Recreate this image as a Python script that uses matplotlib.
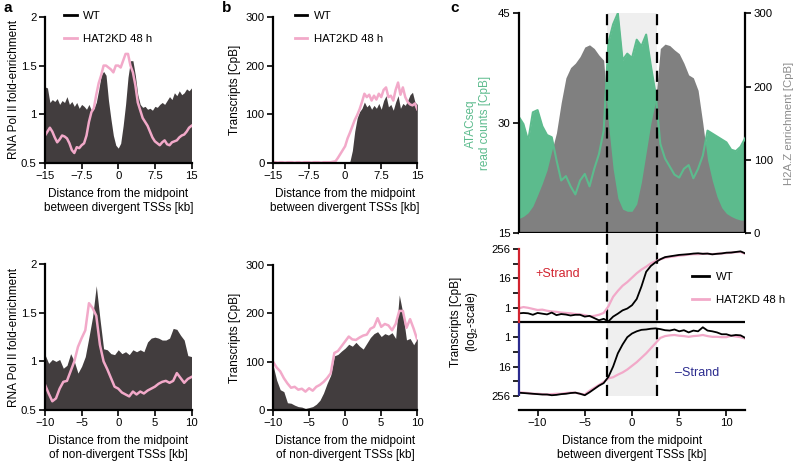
import numpy as np
import matplotlib.pyplot as plt
from matplotlib.lines import Line2D

plt.rcParams['font.family'] = ['Liberation Sans', 'DejaVu Sans']
plt.rcParams['font.size'] = 8.5
plt.rcParams['mathtext.default'] = 'regular'

# distance from midpoint [kb]
x_div = np.arange(-15, 15.01, 0.5)
x_nondiv = np.arange(-10, 10.01, 0.5)
x_c = np.arange(-12, 12.01, 0.5)
div_ticks = [-15, -7.5, 0, 7.5, 15]
div_labels = ['\u221215', '\u22127.5', '0', '7.5', '15']

# a: RNA Pol II fold-enrichment
polii_div_wt = [1.28, 1.27, 1.12, 1.15, 1.13, 1.16, 1.10, 1.14, 1.12, 1.18,
                1.10, 1.13, 1.08, 1.12, 1.06, 1.10, 1.08, 1.05, 1.10, 1.04,
                1.06, 1.12, 1.25, 1.40, 1.44, 1.40, 1.14, 0.95, 0.78, 0.68,
                0.65, 0.70, 0.88, 1.10, 1.38, 1.55, 1.55, 1.40, 1.20, 1.10,
                1.07, 1.08, 1.05, 1.06, 1.04, 1.08, 1.07, 1.10, 1.12, 1.10,
                1.14, 1.18, 1.15, 1.22, 1.19, 1.24, 1.20, 1.22, 1.26, 1.24,
                1.27]
polii_div_kd = [0.78, 0.82, 0.86, 0.82, 0.76, 0.71, 0.74, 0.78, 0.77, 0.75,
                0.70, 0.63, 0.60, 0.66, 0.65, 0.68, 0.70, 0.78, 0.92, 1.02,
                1.06, 1.20, 1.32, 1.40, 1.50, 1.50, 1.48, 1.46, 1.43, 1.50,
                1.50, 1.48, 1.55, 1.62, 1.62, 1.50, 1.43, 1.30, 1.12, 1.04,
                0.96, 0.92, 0.88, 0.82, 0.76, 0.72, 0.70, 0.68, 0.71, 0.73,
                0.69, 0.68, 0.71, 0.72, 0.73, 0.76, 0.78, 0.79, 0.82, 0.86,
                0.88]
polii_nondiv_wt = [1.07, 0.98, 1.02, 1.00, 1.02, 0.93, 0.96, 1.08, 1.00, 0.88,
                   0.95, 1.05, 1.25, 1.46, 1.78, 1.44, 1.13, 1.12, 1.08, 1.07,
                   1.12, 1.08, 1.10, 1.07, 1.12, 1.10, 1.12, 1.10, 1.20, 1.24,
                   1.25, 1.24, 1.22, 1.22, 1.24, 1.34, 1.33, 1.27, 1.22, 1.06,
                   1.05]
polii_nondiv_kd = [0.76, 0.67, 0.59, 0.62, 0.72, 0.79, 0.80, 0.90, 1.00, 1.15,
                   1.24, 1.32, 1.60, 1.55, 1.47, 1.17, 1.00, 0.92, 0.83, 0.74,
                   0.72, 0.68, 0.66, 0.64, 0.69, 0.66, 0.69, 0.67, 0.70, 0.72,
                   0.74, 0.77, 0.79, 0.80, 0.78, 0.80, 0.88, 0.83, 0.78, 0.82,
                   0.84]

# b: transcripts [CpB]
rna_div_wt = [0, 0, 0, 0, 0, 0, 0, 0, 0, 0,
              0, 0, 0, 0, 0, 0, 0, 0, 0, 0,
              0, 0, 0, 0, 0, 0, 0, 0, 0, 0,
              0, 0, 3, 25, 65, 92, 105, 112, 125, 115,
              120, 110, 118, 112, 122, 110, 128, 138, 115, 120,
              108, 125, 138, 112, 122, 118, 128, 140, 145, 125,
              120]
rna_div_kd = [1, 1, 0, 1, 1, 0, 1, 1, 1, 0,
              1, 1, 0, 1, 1, 1, 0, 1, 1, 1,
              0, 1, 1, 1, 1, 2, 3, 10, 18, 26,
              34, 50, 62, 75, 88, 98, 110, 125, 142, 135,
              140, 128, 138, 130, 142, 135, 150, 155, 135, 138,
              128, 150, 165, 140, 155, 135, 125, 120, 118, 122,
              110]
rna_nondiv_wt = [93, 62, 42, 38, 15, 14, 10, 7, 6, 3,
                 5, 7, 12, 20, 35, 55, 72, 112, 115, 122,
                 128, 136, 132, 140, 132, 126, 138, 150, 158, 162,
                 152, 158, 155, 160, 148, 238, 200, 145, 148, 135,
                 148]
rna_nondiv_kd = [100, 88, 80, 66, 55, 46, 48, 42, 44, 38,
                 45, 40, 48, 52, 58, 66, 76, 118, 122, 132,
                 142, 152, 146, 145, 150, 154, 156, 168, 172, 190,
                 172, 178, 175, 165, 178, 205, 205, 170, 188, 168,
                 145]

# c: ATACseq / H2A.Z around divergent TSSs
atac = [30.9, 29.9, 27.6, 31.5, 31.8, 29.6, 28.4, 28.1, 25.0, 22.2,
        22.8, 21.4, 20.3, 22.2, 23.1, 21.4, 23.8, 25.8, 29.0, 41.0,
        43.5, 45.0, 38.6, 39.5, 38.9, 41.4, 40.5, 42.1, 37.8, 34.0,
        27.2, 25.2, 24.1, 23.0, 22.6, 23.8, 24.3, 22.5, 23.8, 25.6,
        29.0, 28.6, 28.2, 27.8, 27.4, 26.4, 26.2, 26.8, 28.0]
h2az = [20, 23, 28, 37, 52, 68, 86, 112, 137, 178,
        212, 226, 232, 241, 254, 257, 252, 243, 236, 150,
        88, 48, 33, 30, 30, 40, 70, 110, 150, 180,
        252, 258, 256, 250, 245, 232, 216, 212, 195, 150,
        100, 72, 50, 35, 27, 23, 20, 18, 18]

# c: strand-specific transcripts, log2(CpB) + 2 (0 = centre line)
plus_wt = [1.24, 1.30, 1.25, 1.05, 1.30, 1.20, 1.10, 1.35, 1.00, 1.15,
           1.08, 0.95, 1.05, 1.05, 0.80, 0.90, 0.60, 0.30, 0.50, 0.15,
           0.80, 1.20, 1.65, 1.90, 2.35, 3.20, 4.90, 6.90, 7.70, 8.20,
           8.60, 8.90, 9.00, 9.10, 9.20, 9.25, 9.30, 9.38, 9.42, 9.35,
           9.38, 9.28, 9.35, 9.40, 9.50, 9.52, 9.60, 9.68, 9.40]
plus_kd = [1.93, 2.10, 2.00, 1.85, 1.70, 1.75, 1.60, 1.50, 1.45, 1.35,
           1.30, 1.25, 1.15, 1.10, 1.00, 0.85, 0.90, 1.05, 1.30, 2.20,
           3.50, 4.30, 5.00, 5.50, 6.10, 6.70, 7.20, 7.60, 8.05, 8.35,
           8.60, 8.80, 8.92, 9.00, 9.10, 9.15, 9.25, 9.30, 9.30, 9.35,
           9.35, 9.30, 9.35, 9.40, 9.45, 9.50, 9.58, 9.60, 9.35]
minus_wt = [9.56, 9.60, 9.65, 9.70, 9.75, 9.80, 9.80, 9.90, 9.85, 9.75,
            9.70, 9.60, 9.55, 9.70, 9.90, 9.50, 9.05, 8.60, 8.25, 7.40,
            6.00, 4.20, 3.00, 2.00, 1.50, 1.20, 1.00, 0.95, 0.85, 0.80,
            0.90, 1.05, 1.10, 0.95, 1.20, 1.05, 1.35, 1.10, 1.20, 0.65,
            1.10, 1.20, 1.35, 1.60, 1.60, 1.80, 1.70, 1.75, 2.10]
minus_kd = [9.50, 9.55, 9.60, 9.70, 9.70, 9.75, 9.80, 9.75, 9.70, 9.70,
            9.60, 9.55, 9.55, 9.70, 9.80, 9.30, 8.90, 8.50, 8.10, 7.60,
            7.45, 7.10, 6.80, 6.40, 5.90, 5.40, 4.80, 4.20, 3.50, 2.80,
            2.10, 1.85, 1.75, 1.70, 1.80, 1.85, 1.95, 1.85, 1.80, 1.70,
            1.85, 1.95, 1.95, 2.00, 2.00, 1.80, 1.90, 2.00, 2.20]
log_ticks = [-10, -8, -6, -4, -2, 0, 2, 4, 6, 8, 10]
log_labels = ['256', '', '16', '', '1', '', '1', '', '16', '', '256']
tss_gap = [-2.65, 2.65]

DARK = '#423d3e'
PINK = '#f2a9c9'
GREEN = '#5cbb8d'
GREY = '#808080'
RED = '#d2232f'
BLUE = '#2b2b8e'

W, H = 798, 466
fig = plt.figure(figsize=(W / 100, H / 100), dpi=100)


def rect(l, t, r, b):
    return [l / W, 1 - b / H, (r - l) / W, (b - t) / H]


def style(ax):
    for s in ['top', 'right']:
        ax.spines[s].set_visible(False)
    for s in ['left', 'bottom']:
        ax.spines[s].set_linewidth(1.6)
    ax.tick_params(width=1.2, length=4, labelsize=8.2, pad=2)


def add_legend(ax, x, y, hl=1.1):
    handles = [Line2D([], [], color='black', lw=2), Line2D([], [], color=PINK, lw=2)]
    ax.legend(handles, ['WT', 'HAT2KD 48 h'], loc='upper left', bbox_to_anchor=(x, y),
              frameon=False, handlelength=hl, handletextpad=0.6, labelspacing=1.1,
              borderpad=0, borderaxespad=0, fontsize=8.2)


xlab_div = 'Distance from the midpoint\nbetween divergent TSSs [kb]'
xlab_nondiv = 'Distance from the midpoint\nof non-divergent TSSs [kb]'

# ---- panel a ----
ax = fig.add_axes(rect(45, 17, 191.5, 162.7))
ax.fill_between(x_div, 0.5, polii_div_wt, color=DARK, lw=0)
ax.plot(x_div, polii_div_kd, color=PINK, lw=1.8)
ax.set_xlim(-15, 15)
ax.set_ylim(0.5, 2)
ax.set_xticks(div_ticks, div_labels)
ax.set_yticks([0.5, 1, 1.5, 2], ['0.5', '1', '1.5', '2'])
ax.set_ylabel('RNA Pol II fold-enrichment', labelpad=1)
ax.set_xlabel(xlab_div, labelpad=5)
style(ax)
add_legend(ax, 0.13, 1.04)

ax = fig.add_axes(rect(45, 264.3, 191.5, 410))
ax.fill_between(x_nondiv, 0.5, polii_nondiv_wt, color=DARK, lw=0)
ax.plot(x_nondiv, polii_nondiv_kd, color=PINK, lw=1.8)
ax.set_xlim(-10, 10)
ax.set_ylim(0.5, 2)
ax.set_xticks([-10, -5, 0, 5, 10])
ax.set_yticks([0.5, 1, 1.5, 2], ['0.5', '1', '1.5', '2'])
ax.set_ylabel('RNA Pol II fold-enrichment', labelpad=1)
ax.set_xlabel(xlab_nondiv, labelpad=5)
style(ax)

# ---- panel b ----
ax = fig.add_axes(rect(273, 17, 417.3, 162.7))
ax.fill_between(x_div, 0, rna_div_wt, color=DARK, lw=0)
ax.plot(x_div, rna_div_kd, color=PINK, lw=1.8)
ax.set_xlim(-15, 15)
ax.set_ylim(0, 300)
ax.set_xticks(div_ticks, div_labels)
ax.set_yticks([0, 100, 200, 300])
ax.set_ylabel('Transcripts [CpB]', labelpad=3)
ax.set_xlabel(xlab_div, labelpad=5)
style(ax)
add_legend(ax, 0.15, 1.04)

ax = fig.add_axes(rect(273, 265, 417.3, 410))
ax.fill_between(x_nondiv, 0, rna_nondiv_wt, color=DARK, lw=0)
ax.plot(x_nondiv, rna_nondiv_kd, color=PINK, lw=1.8)
ax.set_xlim(-10, 10)
ax.set_ylim(0, 300)
ax.set_xticks([-10, -5, 0, 5, 10])
ax.set_yticks([0, 100, 200, 300])
ax.set_ylabel('Transcripts [CpB]', labelpad=3)
ax.set_xlabel(xlab_nondiv, labelpad=5)
style(ax)

# ---- panel c, top: ATACseq (left) and H2A.Z (right) ----
ax_c = fig.add_axes(rect(518.7, 13.3, 745.3, 233.3))
ax_c.axvspan(tss_gap[0], tss_gap[1], color='#efefef', lw=0)
ax_c.fill_between(x_c, 15, atac, color=GREEN, lw=0)
ax_c.set_xlim(-12, 12)
ax_c.set_ylim(15, 45)
ax_c.axis('off')

ax_h = ax_c.twinx()
ax_h.fill_between(x_c, 0, h2az, color=GREY, lw=0)
ax_h.set_ylim(0, 300)
ax_h.set_yticks([0, 100, 200, 300])
for s in ['top', 'left', 'bottom']:
    ax_h.spines[s].set_visible(False)
ax_h.spines['right'].set_linewidth(1.6)
ax_h.tick_params(width=1.2, length=4, labelsize=8.2, pad=2)
ax_h.set_ylabel('H2A.Z enrichment [CpB]', color='#8c8c8c', labelpad=8, fontsize=8.2)

ax_l = ax_c.twinx()
ax_l.plot(x_c, atac, color=GREEN, lw=1.5)
ax_l.set_xlim(-12, 12)
ax_l.set_ylim(15, 45)
for v in tss_gap:
    ax_l.axvline(v, color='black', lw=1.6, dashes=(5, 3.5))
ax_l.yaxis.tick_left()
ax_l.yaxis.set_label_position('left')
ax_l.set_yticks([15, 30, 45])
ax_l.set_xticks([])
for s in ['top', 'right']:
    ax_l.spines[s].set_visible(False)
ax_l.spines['left'].set_linewidth(1.6)
ax_l.spines['bottom'].set_linewidth(1.6)
ax_l.tick_params(width=1.2, length=4, labelsize=8.2, pad=2)
ax_l.set_ylabel('ATACseq\nread counts [CpB]', color=GREEN, labelpad=5)

# ---- panel c, bottom: strand-specific transcripts ----
ytop = 12.14
ax = fig.add_axes(rect(518.7, 233.3, 745.3, 410))
ax.fill_between(tss_gap, -10, ytop, color='#efefef', lw=0)
ax.vlines(tss_gap, -10, ytop, color='black', lw=1.6, linestyles=(0, (5, 3.5)))
ax.axhline(0, color='black', lw=1.6)
ax.plot(x_c, plus_kd, color=PINK, lw=1.6)
ax.plot(x_c, -np.array(minus_kd), color=PINK, lw=1.6)
ax.plot(x_c, plus_wt, color='black', lw=1.3)
ax.plot(x_c, -np.array(minus_wt), color='black', lw=1.3)
ax.set_xlim(-12, 12)
ax.set_ylim(-11.91, ytop)
ax.set_xticks([-10, -5, 0, 5, 10])
ax.set_yticks(log_ticks, log_labels)
style(ax)
ax.spines['left'].set_bounds(0, 10)
ax.spines['left'].set_color(RED)
ax.plot([0, 0], [-10, 0], color=BLUE, lw=1.6, transform=ax.get_yaxis_transform(),
        clip_on=False, solid_capstyle='butt')
for tick, v in zip(ax.yaxis.get_major_ticks(), log_ticks):
    tick.tick1line.set_color(RED if v >= 0 else BLUE)
ax.text(-7.9, 6.6, '+Strand', color=RED, ha='center', va='center', fontsize=9)
ax.text(6.9, -6.9, '–Strand', color=BLUE, ha='center', va='center', fontsize=9)
ax.set_ylabel('Transcripts [CpB]\n(log$_2$-scale)', labelpad=8)
ax.set_xlabel(xlab_div, labelpad=5)
add_legend(ax, 0.765, 0.78, hl=1.5)

fig.text(3 / W, 1 - 8 / H, 'a', fontsize=11, fontweight='bold', va='center', ha='left')
fig.text(222 / W, 1 - 8 / H, 'b', fontsize=11, fontweight='bold', va='center', ha='left')
fig.text(450 / W, 1 - 8 / H, 'c', fontsize=11, fontweight='bold', va='center', ha='left')

fig.savefig('out.png', dpi=100)
